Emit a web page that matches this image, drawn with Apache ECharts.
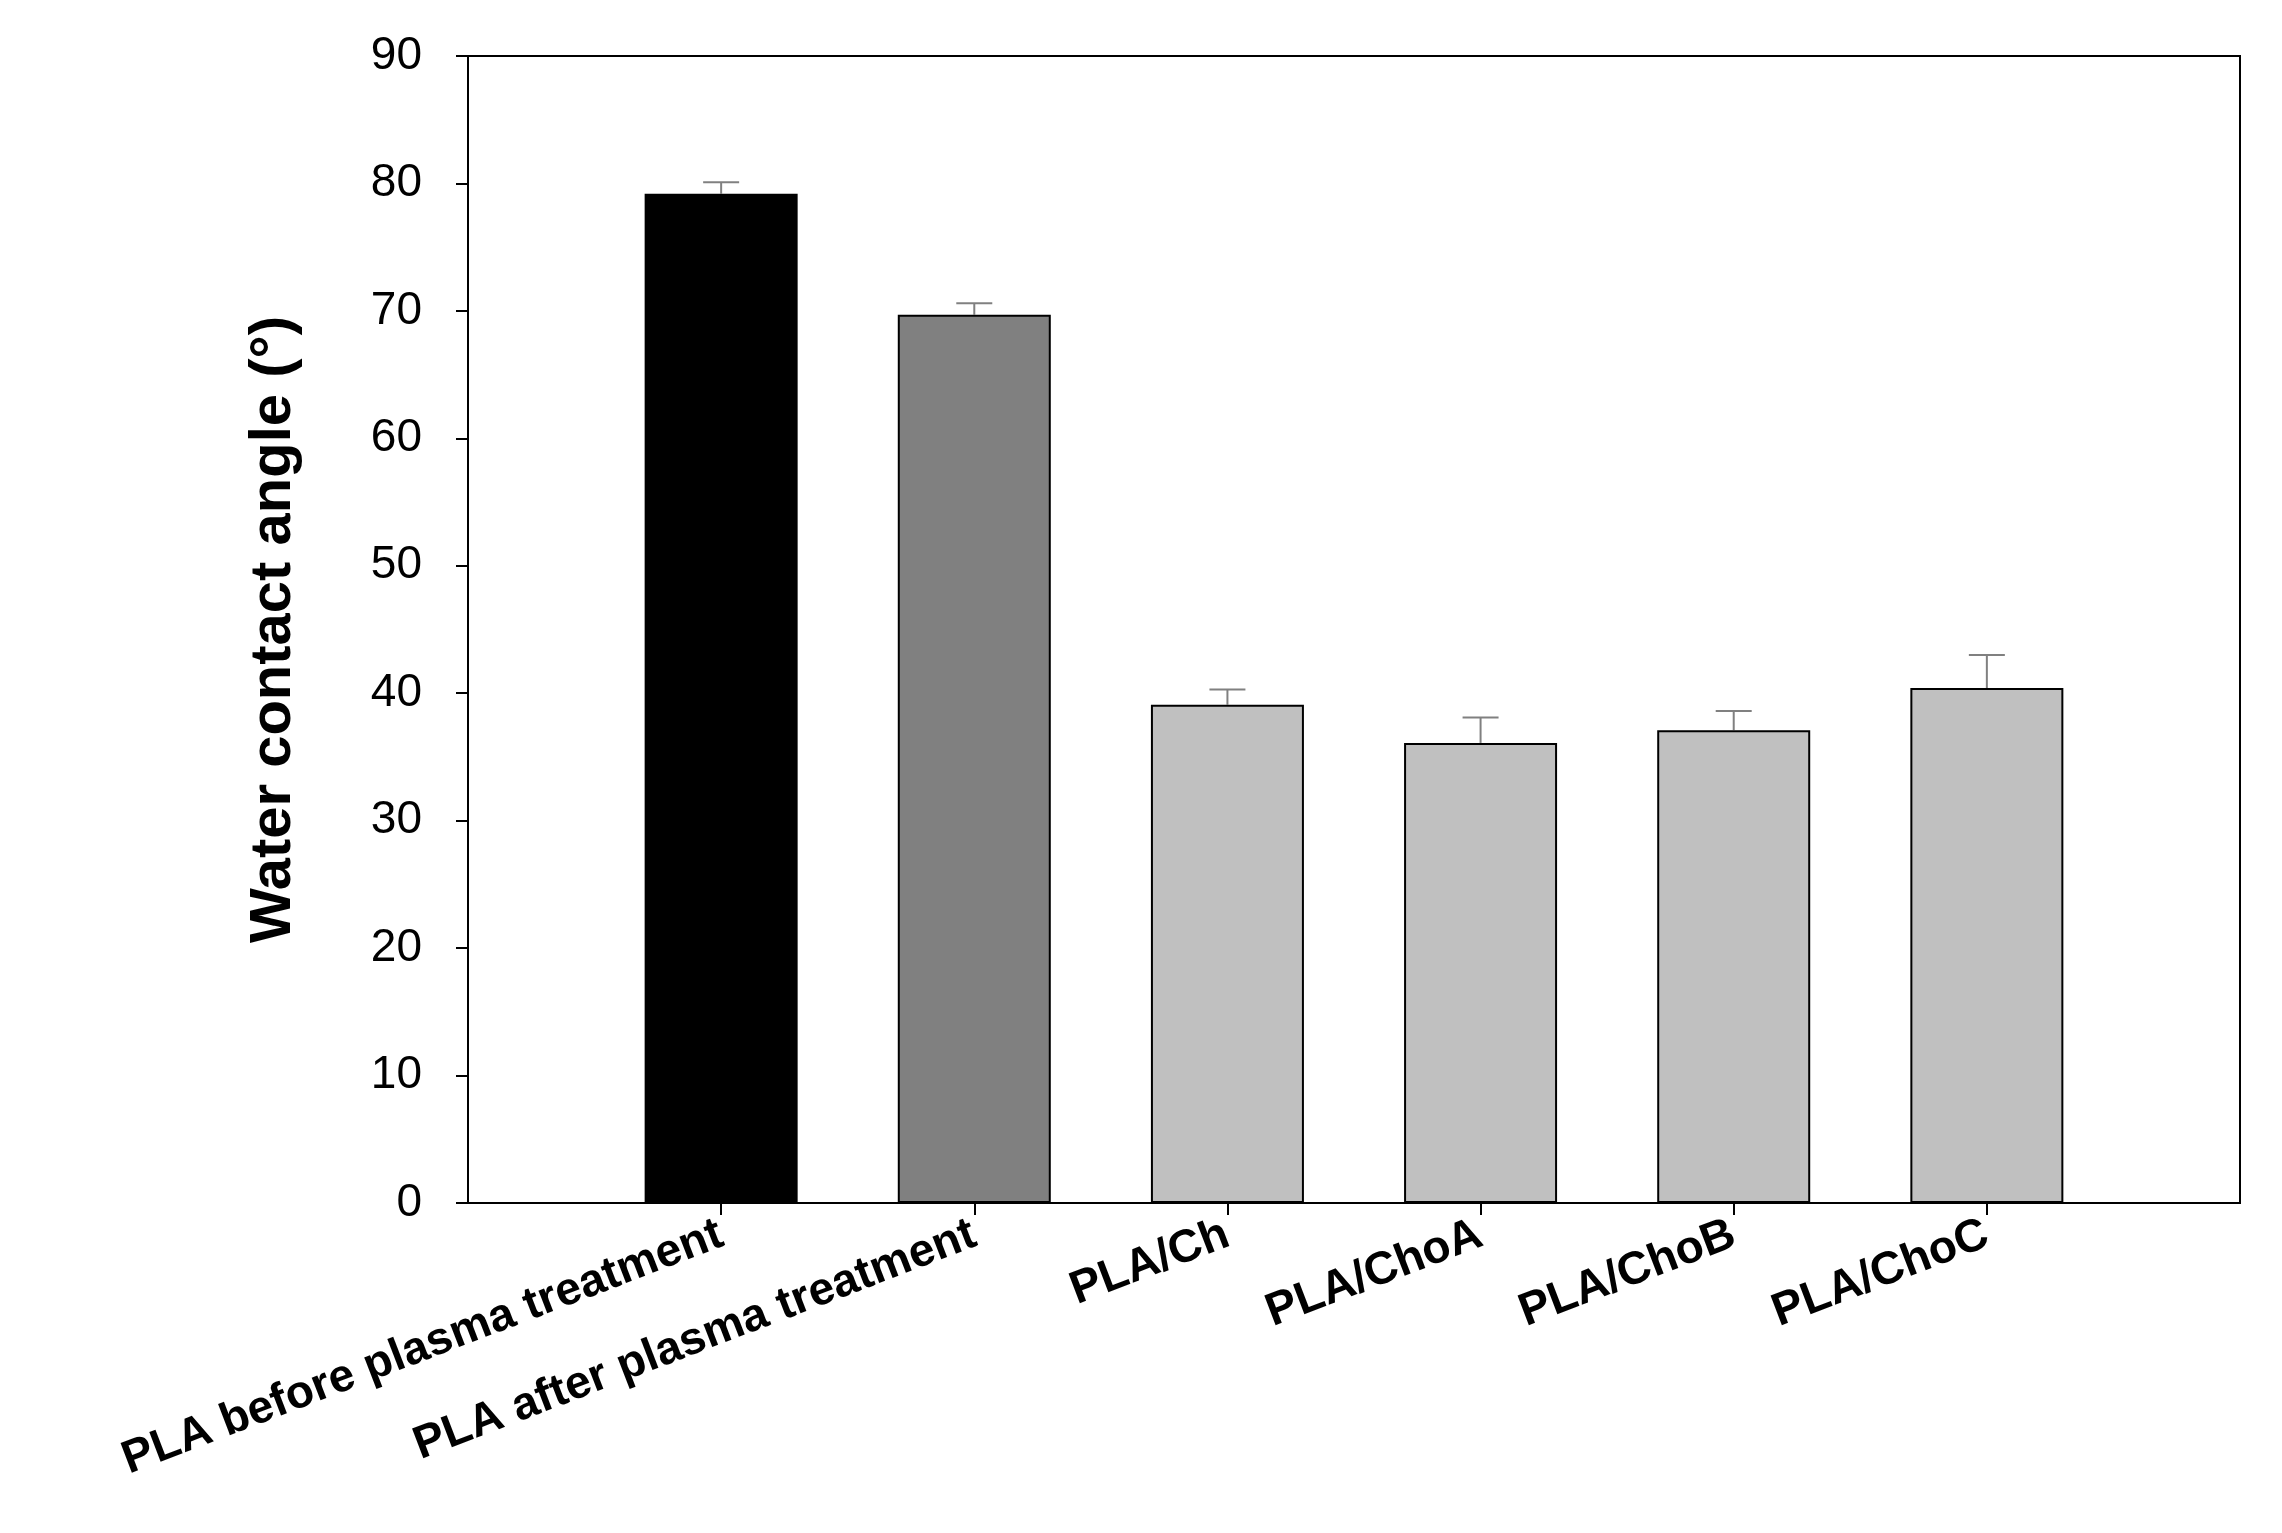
<!DOCTYPE html>
<html><head><meta charset="utf-8">
<script src="https://cdn.jsdelivr.net/npm/echarts@6/dist/echarts.min.js"></script>
<style>html,body{margin:0;background:#fff}#c{width:2282px;height:1533px}</style>
</head><body><div id="c"></div>
<script>
const categories = ['', 'PLA before plasma treatment', 'PLA after plasma treatment', 'PLA/Ch', 'PLA/ChoA', 'PLA/ChoB', 'PLA/ChoC', ''];
const values = [null, 79.2, 69.7, 39.1, 36.1, 37.1, 40.4, null];
const errTop = [null, 80.1, 70.6, 40.3, 38.1, 38.6, 43.0, null];
const colors = ['#000', '#000000', '#808080', '#c0c0c0', '#c0c0c0', '#c0c0c0', '#c0c0c0', '#000'];
const yTicks = [0, 10, 20, 30, 40, 50, 60, 70, 80, 90];

const chart = echarts.init(document.getElementById('c'));
const font = 'Liberation Sans, Arial, sans-serif';
chart.setOption({
  animation: false,
  grid: { left: 468, right: 42, top: 56, bottom: 330, show: true, borderColor: '#000', borderWidth: 2 },
  xAxis: {
    type: 'category', data: categories, boundaryGap: false,
    axisLine: { lineStyle: { color: '#000', width: 2 } },
    axisTick: { interval: (i) => i > 0 && i < 7, length: 12, inside: false, lineStyle: { color: '#000', width: 2 } },
    axisLabel: { interval: 0, rotate: 21, fontSize: 46, fontWeight: 'bold', color: '#000', fontFamily: font, margin: 30 },
    splitLine: { show: false }
  },
  yAxis: {
    type: 'value', min: yTicks[0], max: yTicks[yTicks.length - 1], interval: 10,
    name: 'Water contact angle (°)', nameLocation: 'middle', nameGap: 165,
    nameTextStyle: { fontSize: 58, fontWeight: 'bold', color: '#000', fontFamily: font },
    axisLine: { show: true, lineStyle: { color: '#000', width: 2 } },
    axisTick: { show: true, length: 12, lineStyle: { color: '#000', width: 2 } },
    axisLabel: { fontSize: 46, color: '#000', fontFamily: font, margin: 46 },
    splitLine: { show: false }
  },
  series: [
    {
      type: 'bar', barWidth: 153,
      data: values.map((v, i) => v == null ? null : { value: v, itemStyle: { color: colors[i] } }),
      itemStyle: { borderColor: '#000', borderWidth: 2 }
    },
    {
      type: 'custom', z: 1,
      data: values.map((v, i) => v == null ? null : [i, v, errTop[i]]).filter(d => d),
      renderItem: (params, api) => {
        const p0 = api.coord([api.value(0), api.value(1)]);
        const p1 = api.coord([api.value(0), api.value(2)]);
        const st = { stroke: '#808080', lineWidth: 2 };
        return { type: 'group', children: [
          { type: 'line', shape: { x1: p0[0], y1: p0[1], x2: p1[0], y2: p1[1] }, style: st },
          { type: 'line', shape: { x1: p1[0] - 18, y1: p1[1], x2: p1[0] + 18, y2: p1[1] }, style: st }
        ]};
      }
    }
  ]
});
</script></body></html>
